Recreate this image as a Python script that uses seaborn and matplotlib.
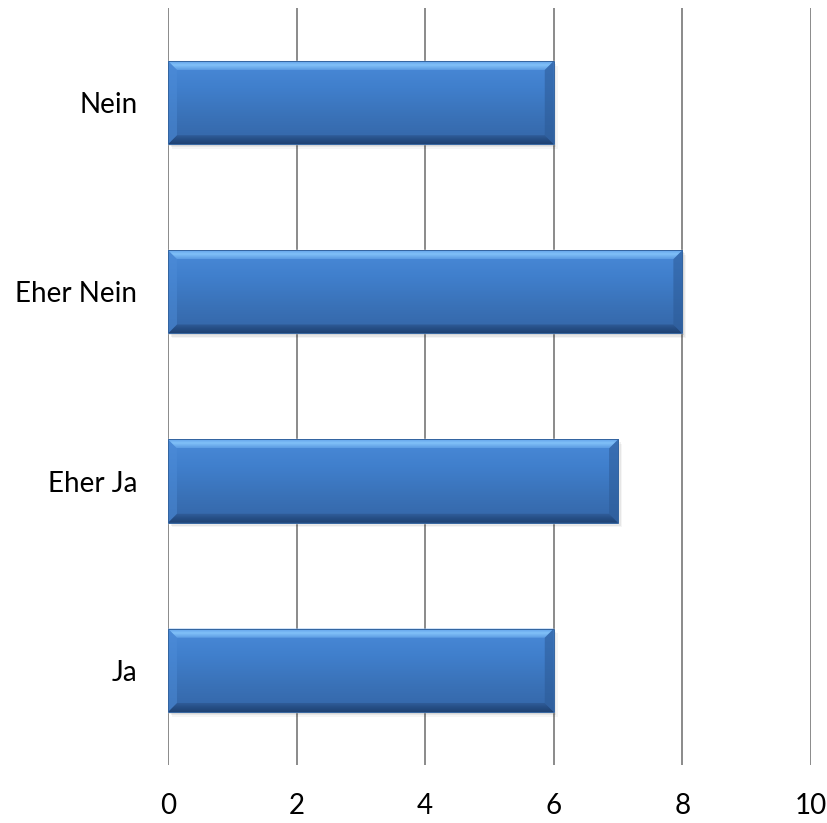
import matplotlib
matplotlib.use("Agg")
import matplotlib.pyplot as plt
import seaborn as sns
import numpy as np
import pandas as pd
from matplotlib.patches import Polygon, Rectangle
from matplotlib.colors import LinearSegmentedColormap

categories = ["Nein", "Eher Nein", "Eher Ja", "Ja"]
values = [6, 8, 7, 6]
xticks = [0, 2, 4, 6, 8, 10]

sns.set_theme(style="white")
plt.rcParams['font.family'] = ['Lato', 'DejaVu Sans']

fig = plt.figure(figsize=(8.27, 8.23), dpi=100)
ax = fig.add_axes([0.2031, 0.0705, 0.7775, 0.9198])

df = pd.DataFrame({"cat": categories, "val": values})
sns.barplot(data=df, x="val", y="cat", order=categories, orient="h",
            color="#3f7cc8", width=0.44, ax=ax, zorder=3, saturation=1)

ax.set_xlim(0, 10)
ax.set_ylim(3.5, -0.5)
ax.set_xticks(xticks)
ax.set_xticklabels([str(t) for t in xticks])
ax.set_xlabel("")
ax.set_ylabel("")
for s in ax.spines.values():
    s.set_visible(False)
ax.grid(False)
for t in xticks:
    ax.axvline(t, color="#8a8a8a", lw=1.4, zorder=1)
ax.tick_params(axis="x", length=0, pad=20, labelsize=20, colors="black")
ax.tick_params(axis="y", length=0, pad=22, labelsize=20, colors="black")

cmap = LinearSegmentedColormap.from_list("g", ["#4a8ad8", "#407fcc", "#3a72b8", "#3466a8"])
grad = np.linspace(0, 1, 256).reshape(-1, 1)
topmap = LinearSegmentedColormap.from_list("t", ["#5a9ae6", "#80c0f8", "#5b9be2"])
botmap = LinearSegmentedColormap.from_list("b", ["#32609e", "#264f86", "#1f4273"])

bx = 9 / 64.3
by = 9 / 189.0
for p in list(ax.patches):
    x0, y0 = p.get_x(), p.get_y()
    w, h = p.get_width(), p.get_height()
    x1, y1 = x0 + w, y0 + h
    # soft shadow
    for k, a in ((1, 0.10), (2, 0.06), (3, 0.04)):
        sh = Rectangle((x0 + 0.02 * k, y0 + 0.008 * k), w, h, facecolor="#000000",
                       alpha=a, edgecolor="none", zorder=2)
        ax.add_patch(sh)
    im = ax.imshow(grad, extent=(x0, x1, y1, y0), cmap=cmap, aspect="auto",
                   zorder=3.5, origin="upper")
    im.set_clip_path(p)
    top = Polygon([(x0, y0), (x1, y0), (x1 - bx, y0 + by), (x0 + bx, y0 + by)],
                  closed=True, facecolor="none", edgecolor="none", zorder=4)
    ax.add_patch(top)
    imt = ax.imshow(grad, extent=(x0, x1, y0 + by, y0), cmap=topmap, aspect="auto",
                    zorder=4, origin="upper")
    imt.set_clip_path(top)
    bot = Polygon([(x0, y1), (x1, y1), (x1 - bx, y1 - by), (x0 + bx, y1 - by)],
                  closed=True, facecolor="none", edgecolor="none", zorder=4)
    ax.add_patch(bot)
    imb = ax.imshow(grad, extent=(x0, x1, y1, y1 - by), cmap=botmap, aspect="auto",
                    zorder=4, origin="upper")
    imb.set_clip_path(bot)
    left = Polygon([(x0, y0), (x0 + bx, y0 + by), (x0 + bx, y1 - by), (x0, y1)],
                   closed=True, facecolor="#4d8cd8", edgecolor="none", alpha=0.5, zorder=4)
    right = Polygon([(x1, y0), (x1 - bx, y0 + by), (x1 - bx, y1 - by), (x1, y1)],
                    closed=True, facecolor="#2c5a96", edgecolor="none", alpha=0.55, zorder=4)
    ax.add_patch(left)
    ax.add_patch(right)
    edge = Rectangle((x0, y0), w, h, facecolor="none", edgecolor="#34649f", lw=0.7, zorder=5)
    ax.add_patch(edge)

ax.set_xlim(0, 10)
ax.set_ylim(3.5, -0.5)
fig.savefig("out.png", dpi=100)
